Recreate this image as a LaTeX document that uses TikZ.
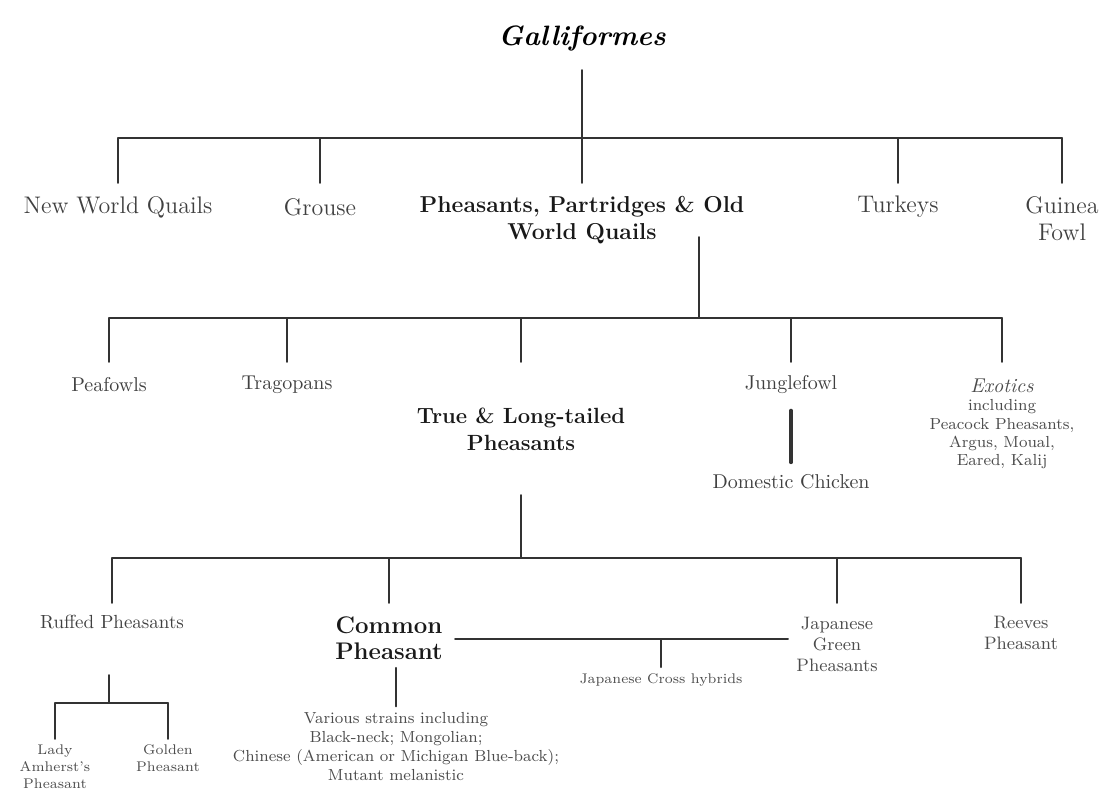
\documentclass[tikz,border=0pt]{standalone}
\usetikzlibrary{positioning}

\begin{document}
\begin{tikzpicture}[x=0.5pt, y=-0.5pt, line cap=round, line join=round,
    tree/.style={draw=black!80, line width=0.9pt},
    taxon/.style={align=center, text=black!75, inner sep=0pt,
        font=\fontsize{12}{13.5}\selectfont},
    genus/.style={align=center, text=black!75, inner sep=0pt,
        font=\fontsize{10}{10.5}\selectfont},
    main/.style={align=center, text=black!90, inner sep=0pt,
        font=\fontsize{11}{13.5}\selectfont\bfseries},
    note/.style={align=center, text=black!70, inner sep=0pt,
        font=\fontsize{8}{9.2}\selectfont}]

    % ── Frame of the page (pixel grid, y down) ───────────────────────────────
    \useasboundingbox (0,0) rectangle (1107,793);

    % ── Order ─────────────────────────────────────────────────────────────────
    \node[font=\fontsize{14}{16}\selectfont\bfseries\itshape] (gal) at (582,38)
        {Galliformes};

    % ── Families ──────────────────────────────────────────────────────────────
    \node[taxon] (nwq)     at (118,207) {New World Quails};
    \node[taxon] (grouse)  at (320,207) {Grouse};
    \node[main, font=\fontsize{11.5}{13.5}\selectfont\bfseries] (ppq) at (582,220)
        {Pheasants, Partridges \& Old\\World Quails};
    \node[taxon] (turkeys) at (898,207) {Turkeys};
    \node[taxon] (guinea)  at (1062,219) {Guinea\\Fowl};

    % ── Groups of pheasants ──────────────────────────────────────────────────
    \node[genus] (peafowls)  at (109,385) {Peafowls};
    \node[genus] (tragopans) at (287,385) {Tragopans};
    \node[main]  (tlt)       at (521,429) {True \& Long-tailed\\Pheasants};
    \node[genus] (jungle)    at (791,385) {Junglefowl};
    \node[genus] (chicken)   at (791,482) {Domestic Chicken};
    \node[note]  (exotics)   at (1002,424)
        {{\fontsize{10}{9.2}\selectfont\itshape Exotics}\\including\\Peacock Pheasants,\\Argus, Moual,\\Eared, Kalij};

    % ── True pheasants ────────────────────────────────────────────────────────
    \node[genus, font=\fontsize{9.5}{10.5}\selectfont] (ruffed) at (112,622)
        {Ruffed Pheasants};
    \node[main, font=\fontsize{12}{13}\selectfont\bfseries] (common) at (389,638)
        {Common\\Pheasant};
    \node[note, font=\fontsize{9}{10.5}\selectfont] (jgreen) at (837,644)
        {Japanese\\Green\\Pheasants};
    \node[note, font=\fontsize{9}{10.5}\selectfont] (reeves) at (1021,633)
        {Reeves\\Pheasant};
    \node[note, font=\fontsize{7}{8}\selectfont] (hybrids) at (661,680)
        {Japanese Cross hybrids};
    \node[note, font=\fontsize{7}{8.5}\selectfont] (lady) at (55,767)
        {Lady\\Amherst's\\Pheasant};
    \node[note, font=\fontsize{7}{8.5}\selectfont] (golden) at (168,758)
        {Golden\\Pheasant};
    \node[note, font=\fontsize{8}{9.5}\selectfont] (various) at (396,747)
        {Various strains including\\Black-neck; Mongolian;\\Chinese (American or Michigan Blue-back);\\Mutant melanistic};

    % ── Levels of the tree ────────────────────────────────────────────────────
    \coordinate (gal-stem) at (582,70);
    \coordinate (bar1) at (0,138);  \coordinate (row1) at (0,183);
    \coordinate (ppq-stem) at (699,237);
    \coordinate (bar2) at (0,318);  \coordinate (row2) at (0,362);
    \coordinate (tlt-stem) at (521,495);
    \coordinate (bar3) at (0,558);  \coordinate (row3) at (0,603);
    \coordinate (link) at (0,639);
    \coordinate (ruffed-stem) at (109,675);
    \coordinate (bar4) at (0,703);  \coordinate (row4) at (0,739);

    % Galliformes -> families
    \draw[tree] (gal-stem) -- (ppq |- row1);
    \draw[tree] (nwq |- bar1) -- (guinea |- bar1);
    \foreach \n in {nwq, grouse, turkeys, guinea}
        \draw[tree] (\n |- bar1) -- (\n |- row1);

    % Pheasants, Partridges & Old World Quails -> groups
    \draw[tree] (ppq-stem) -- (ppq-stem |- bar2);
    \draw[tree] (peafowls |- bar2) -- (exotics |- bar2);
    \foreach \n in {peafowls, tragopans, tlt, jungle, exotics}
        \draw[tree] (\n |- bar2) -- (\n |- row2);
    \draw[tree, line width=1.8pt, shorten <=8pt, shorten >=6pt] (jungle) -- (chicken);

    % True & Long-tailed Pheasants -> species
    \draw[tree] (tlt-stem) -- (tlt-stem |- bar3);
    \draw[tree] (ruffed |- bar3) -- (reeves |- bar3);
    \foreach \n in {ruffed, common, jgreen, reeves}
        \draw[tree] (\n |- bar3) -- (\n |- row3);
    \draw[tree] ([xshift=6pt]common.east |- link) -- ([xshift=-4pt]jgreen.west |- link);
    \draw[tree] (hybrids |- link) -- ([yshift=3pt]hybrids.north);

    % Ruffed Pheasants -> Lady Amherst's, Golden
    \draw[tree] (ruffed-stem) -- (ruffed-stem |- bar4);
    \draw[tree] (lady |- bar4) -- (golden |- bar4);
    \foreach \n in {lady, golden}
        \draw[tree] (\n |- bar4) -- (\n |- row4);

    % Common Pheasant -> strains
    \draw[tree, shorten <=4pt, shorten >=3pt] (various |- common.south) -- (various.north);

\end{tikzpicture}
\end{document}
